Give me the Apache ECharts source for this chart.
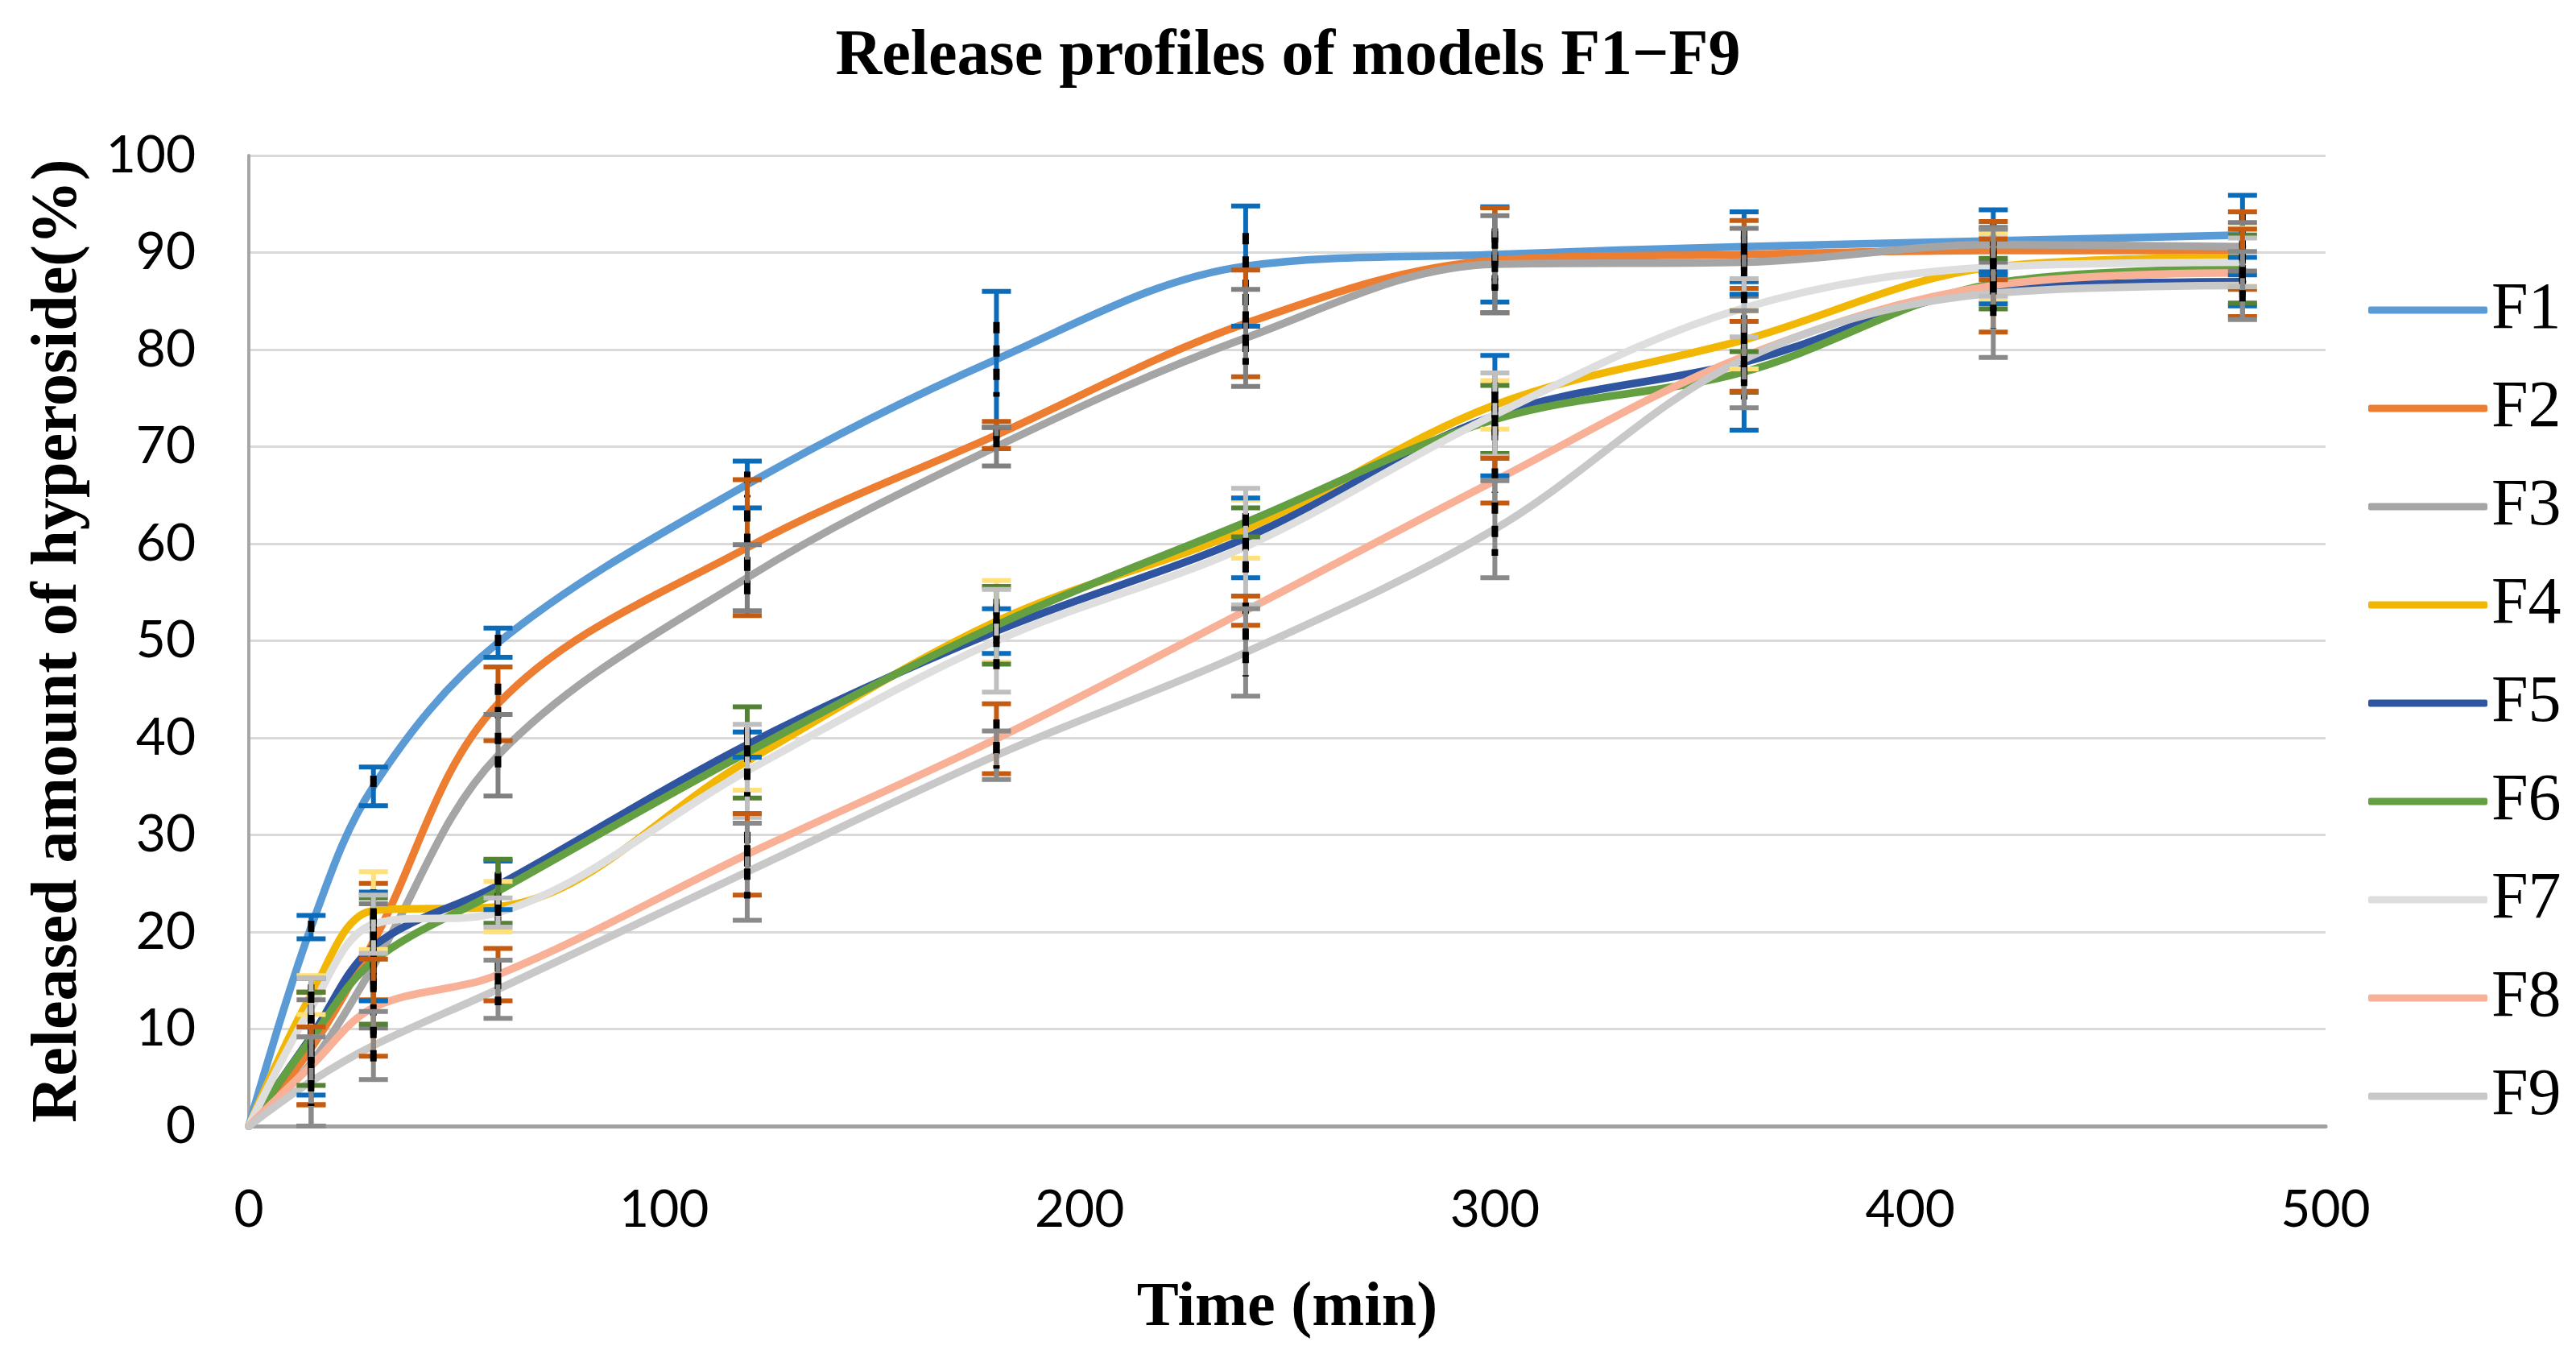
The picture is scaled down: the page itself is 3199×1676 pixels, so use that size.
<!DOCTYPE html>
<html>
<head>
<meta charset="utf-8">
<script src="https://cdn.jsdelivr.net/npm/echarts@6/dist/echarts.min.js"></script>
<style>
html,body{margin:0;padding:0;background:#fff;}
#chart{width:3199px;height:1676px;}
</style>
</head>
<body>
<div id="chart"></div>
<script>
const times = [0, 15, 30, 60, 120, 180, 240, 300, 360, 420, 480];
const seriesNames = ['F1', 'F2', 'F3', 'F4', 'F5', 'F6', 'F7', 'F8', 'F9'];
const xTicks = [0, 100, 200, 300, 400, 500];
const yTicks = [0, 10, 20, 30, 40, 50, 60, 70, 80, 90, 100];

const F1 = [0, 20.5, 35.0, 49.8, 66.1, 79.0, 88.6, 89.8, 90.6, 91.2, 91.8];
const F2 = [0, 8.0, 19.0, 43.5, 59.6, 71.2, 82.7, 89.2, 89.8, 90.2, 90.2];
const F3 = [0, 6.5, 16.5, 38.2, 56.5, 70.0, 81.2, 88.8, 89.0, 90.8, 90.6];
const F4 = [0, 13.5, 22.2, 22.6, 37.6, 52.0, 61.5, 74.3, 81.0, 88.5, 89.5];
const F5 = [0, 9.2, 18.5, 24.8, 39.3, 51.0, 60.6, 73.2, 78.7, 86.2, 87.0];
const F6 = [0, 9.0, 17.0, 24.2, 38.5, 51.6, 62.2, 72.8, 77.7, 86.8, 88.3];
const F7 = [0, 12.2, 20.8, 22.0, 36.6, 50.0, 59.7, 73.3, 84.3, 88.5, 89.0];
const F8 = [0, 6.2, 12.2, 15.6, 28.0, 39.9, 53.1, 66.5, 79.3, 86.6, 87.9];
const F9 = [0, 4.6, 8.3, 14.1, 26.2, 38.2, 48.8, 61.5, 79.0, 85.8, 86.6];

const F1err = [0, 1.2, 2.0, 1.5, 2.4, 7.0, 6.2, 4.9, 3.6, 3.2, 4.1];
const F2err = [0, 5.8, 6.0, 3.8, 7.0, 1.4, 5.5, 5.4, 3.5, 3.0, 4.0];
const F3err = [0, 6.5, 6.4, 4.2, 3.4, 2.0, 5.0, 5.0, 3.5, 1.8, 2.5];
const F4err = [0, 2.0, 4.0, 2.6, 3.0, 4.2, 3.0, 2.5, 3.0, 3.5, 3.0];
const F5err = [0, 6.0, 5.6, 2.5, 1.3, 2.3, 4.1, 6.2, 7.0, 1.5, 2.5];
const F6err = [0, 4.8, 6.5, 3.3, 4.7, 4.0, 1.5, 3.5, 2.1, 2.6, 3.5];
const F7err = [0, 3.0, 3.0, 1.5, 4.8, 5.3, 6.0, 4.3, 3.0, 3.0, 2.5];
const F8err = [0, 4.0, 5.0, 2.7, 4.2, 3.6, 1.5, 2.3, 3.6, 4.8, 4.5];
const F9err = [0, 4.6, 3.5, 3.0, 5.0, 2.5, 4.5, 5.0, 5.0, 6.6, 3.5];

const means = [F1, F2, F3, F4, F5, F6, F7, F8, F9];
const errs = [F1err, F2err, F3err, F4err, F5err, F6err, F7err, F8err, F9err];

const lineColors = ['#5B9BD5', '#ED7D31', '#A5A5A5', '#F2B705', '#2F55A0', '#64A042', '#DEDEDE', '#F8B197', '#C8C8C8'];
const errColors = ['#0B6BB8', '#C55A11', '#808080', '#FFE07A', '#0A6CBD', '#548235', '#BFBFBF', '#C55A11', '#8A8A8A'];

const serifFont = '"Liberation Serif", "DejaVu Serif", serif';
const sansFont = 'Lato, "Open Sans", sans-serif';

const series = [];
seriesNames.forEach((name, k) => {
  series.push({
    name: name,
    type: 'line',
    smooth: 0.35,
    symbol: 'none',
    data: times.map((t, i) => [t, means[k][i]]),
    lineStyle: { width: 9.5, color: lineColors[k], cap: 'round' },
    itemStyle: { color: lineColors[k] },
    z: 2 + k
  });
});
seriesNames.forEach((name, k) => {
  series.push({
    name: name + ' error',
    type: 'custom',
    data: times.map((t, i) => [t, means[k][i], errs[k][i]]).filter(d => d[2] > 0),
    z: 20 + k,
    silent: true,
    renderItem: function (params, api) {
      const t = api.value(0), m = api.value(1), e = api.value(2);
      const top = api.coord([t, m + e]);
      const bot = api.coord([t, m - e]);
      const iTop = api.coord([t, m + e * 0.55]);
      const iBot = api.coord([t, m - e * 0.55]);
      const half = 18;
      const c = errColors[k];
      const st = { stroke: c, lineWidth: 6 };
      return {
        type: 'group',
        children: [
          { type: 'line', shape: { x1: top[0], y1: top[1], x2: bot[0], y2: bot[1] }, style: st },
          { type: 'line', shape: { x1: top[0] - half, y1: top[1], x2: top[0] + half, y2: top[1] }, style: st },
          { type: 'line', shape: { x1: bot[0] - half, y1: bot[1], x2: bot[0] + half, y2: bot[1] }, style: st },
          { type: 'line', shape: { x1: iTop[0], y1: iTop[1], x2: iBot[0], y2: iBot[1] },
            style: { stroke: '#000', lineWidth: 8, lineDash: [14, 15] } }
        ]
      };
    }
  });
});

const chart = echarts.init(document.getElementById('chart'), null, { renderer: 'canvas' });
chart.setOption({
  backgroundColor: '#ffffff',
  animation: false,
  title: {
    text: 'Release profiles of models F1\u2212F9',
    left: 'center',
    top: 26,
    textStyle: { fontFamily: serifFont, fontWeight: 'bold', fontSize: 80, color: '#000' }
  },
  legend: {
    data: seriesNames,
    orient: 'vertical',
    left: 2936,
    top: 339,
    icon: 'roundRect',
    itemWidth: 148,
    itemHeight: 9,
    itemGap: 40,
    itemStyle: { borderWidth: 0 },
    textStyle: { fontFamily: serifFont, fontSize: 82, color: '#000', lineHeight: 82, padding: [0, 0, 0, 0] }
  },
  grid: { left: 309, right: 311, top: 193, bottom: 278, containLabel: false },
  xAxis: {
    type: 'value',
    min: xTicks[0],
    max: xTicks[xTicks.length - 1],
    interval: 100,
    name: 'Time (min)',
    nameLocation: 'middle',
    nameGap: 188,
    nameTextStyle: { fontFamily: serifFont, fontWeight: 'bold', fontSize: 78, color: '#000' },
    axisLine: { show: true, lineStyle: { color: '#A0A0A0', width: 5 } },
    axisTick: { show: false },
    splitLine: { show: false },
    axisLabel: { fontFamily: sansFont, fontSize: 64, color: '#000', margin: 72 }
  },
  yAxis: {
    type: 'value',
    min: yTicks[0],
    max: yTicks[yTicks.length - 1],
    interval: 10,
    name: 'Released amount of hyperoside(%)',
    nameLocation: 'middle',
    nameRotate: 90,
    nameGap: 196,
    nameTextStyle: { fontFamily: serifFont, fontWeight: 'bold', fontSize: 80, color: '#000' },
    axisLine: { show: true, lineStyle: { color: '#A6A6A6', width: 4 } },
    axisTick: { show: false },
    splitLine: { show: true, lineStyle: { color: '#D9D9D9', width: 3 } },
    axisLabel: { fontFamily: sansFont, fontSize: 64, color: '#000', margin: 66 }
  },
  series: series
});
</script>
</body>
</html>
